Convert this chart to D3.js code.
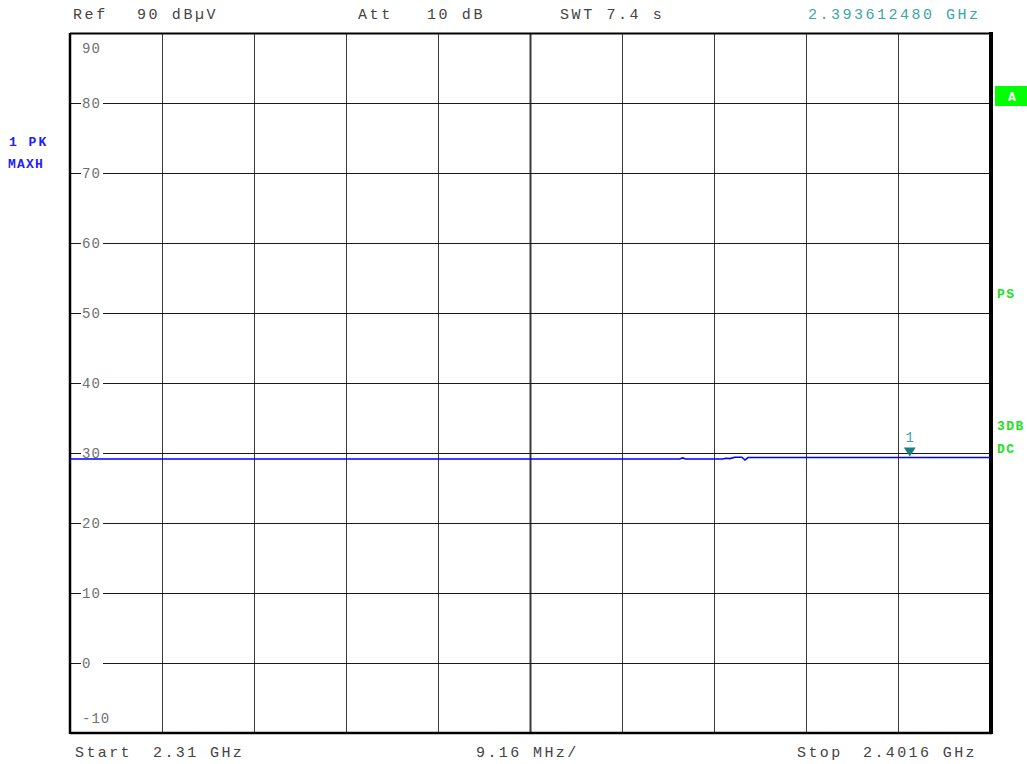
<!DOCTYPE html>
<html>
<head>
<meta charset="utf-8">
<script src="https://cdn.jsdelivr.net/npm/d3@7/dist/d3.min.js"></script>
<style>
  body { margin: 0; background: #fff; }
  svg text { font-family: "Liberation Mono", "DejaVu Sans Mono", monospace; white-space: pre; }
</style>
</head>
<body>
<div id="chart"></div>
<script>
// dane widma (GHz, dBuV)
var traceFreq = [2.31, 2.3707, 2.3710, 2.3713, 2.3750, 2.3753, 2.3757, 2.3762, 2.3769, 2.3772, 2.3775, 2.4016];
var traceLevel = [29.15, 29.15, 29.3, 29.15, 29.15, 29.25, 29.2, 29.4, 29.4, 29.0, 29.35, 29.35];
var yTicks = [90, 80, 70, 60, 50, 40, 30, 20, 10, 0, -10];
var startFreq = 2.31, stopFreq = 2.4016, spanDiv = 0.00916;
var markerFreq = 2.39361248, markerLevel = 29.35;
var headerTexts = [["Ref", 73], ["90 dBµV", 137], ["Att", 358], ["10 dB", 427], ["SWT 7.4 s", 560]];
var footerTexts = [["Start", 75], ["2.31 GHz", 153], ["9.16 MHz/", 476], ["Stop", 797], ["2.4016 GHz", 863]];
var rightTexts = [["PS", 298], ["3DB", 430], ["DC", 453]];

var width = 1027, height = 764;
var pLeft = 70, pRight = 990, pTop = 33, pBottom = 733;

var svg = d3.select("#chart").append("svg")
  .attr("width", width).attr("height", height);

var x = d3.scaleLinear().domain([startFreq, stopFreq]).range([pLeft, pRight]);
var y = d3.scaleLinear().domain([-10, 90]).range([pBottom, pTop]);

// siatka pionowa
var xGrid = d3.range(1, 10).map(function (i) { return startFreq + i * spanDiv; });
svg.selectAll(".vgrid").data(xGrid).enter().append("line")
  .attr("x1", function (d) { return Math.round(x(d)) + 0.5; })
  .attr("x2", function (d) { return Math.round(x(d)) + 0.5; })
  .attr("y1", pTop).attr("y2", pBottom)
  .style("stroke", "#3a3a3a")
  .style("stroke-width", function (d, i) { return i == 4 ? 2 : 1; });

// siatka pozioma
svg.selectAll(".hgrid").data(yTicks.slice(1, -1)).enter().append("line")
  .attr("x1", pLeft).attr("x2", pRight)
  .attr("y1", function (d) { return Math.round(y(d)) + 0.5; })
  .attr("y2", function (d) { return Math.round(y(d)) + 0.5; })
  .style("stroke", "#1a1a1a").style("stroke-width", 1);

// etykiety osi Y
var lab = svg.selectAll(".ylab").data(yTicks).enter().append("g")
  .attr("transform", function (d) {
    var yy = y(d);
    if (d == 90) yy += 15;
    if (d == -10) yy -= 15;
    return "translate(82," + yy + ")";
  });
lab.append("rect")
  .attr("x", -1).attr("y", -8).attr("width", function (d) { return d < 0 ? 32 : 22; }).attr("height", 16)
  .style("fill", "#fff");
lab.append("text")
  .attr("dy", "0.36em")
  .style("font-size", "14px").style("letter-spacing", "1px")
  .style("fill", "#707070")
  .text(function (d) { return d; });

// ramka
svg.append("line").attr("x1", pLeft).attr("x2", pRight + 2).attr("y1", pTop + 0.5).attr("y2", pTop + 0.5)
  .style("stroke", "#000").style("stroke-width", 2);
svg.append("line").attr("x1", pLeft).attr("x2", pRight + 2).attr("y1", pBottom).attr("y2", pBottom)
  .style("stroke", "#000").style("stroke-width", 2.5);
svg.append("line").attr("x1", pLeft).attr("x2", pLeft).attr("y1", pTop).attr("y2", pBottom + 1)
  .style("stroke", "#000").style("stroke-width", 2.5);
svg.append("line").attr("x1", pRight + 1).attr("x2", pRight + 1).attr("y1", pTop - 1).attr("y2", pBottom + 1)
  .style("stroke", "#000").style("stroke-width", 4);

// przebieg
var trace = traceFreq.map(function (f, i) { return [f, traceLevel[i]]; });
var line = d3.line()
  .x(function (d) { return x(d[0]); })
  .y(function (d) { return y(d[1]); });
svg.append("path").datum(trace)
  .attr("d", line)
  .style("fill", "none").style("stroke", "#0000ff").style("stroke-width", 1.6);

// marker 1
var mx = x(markerFreq), my = y(markerLevel);
svg.append("path")
  .attr("d", "M" + (mx - 6) + "," + (my - 10) + "L" + (mx + 6) + "," + (my - 10) + "L" + mx + "," + (my - 1) + "Z")
  .style("fill", "#177f7f");
svg.append("text").attr("x", mx).attr("y", my - 16)
  .attr("text-anchor", "middle")
  .style("font-size", "14px").style("fill", "#3aa6a6")
  .text("1");

// naglowek i stopka
svg.selectAll(".head").data(headerTexts).enter().append("text")
  .attr("x", function (d) { return d[1]; }).attr("y", 19)
  .style("font-size", "15px").style("letter-spacing", "2.6px").style("fill", "#444")
  .text(function (d) { return d[0]; });
svg.append("text").attr("x", 808).attr("y", 19)
  .style("font-size", "15px").style("letter-spacing", "2.5px").style("fill", "#3aa6a6")
  .text("2.393612480 GHz");
svg.selectAll(".foot").data(footerTexts).enter().append("text")
  .attr("x", function (d) { return d[1]; }).attr("y", 757)
  .style("font-size", "15px").style("letter-spacing", "2.4px").style("fill", "#444")
  .text(function (d) { return d[0]; });

// opisy z lewej
svg.append("text").attr("x", 9).attr("y", 146)
  .style("font-size", "13px").style("font-weight", "bold").style("letter-spacing", "2px").style("fill", "#2020ff")
  .text("1 PK");
svg.append("text").attr("x", 8).attr("y", 168)
  .style("font-size", "13px").style("font-weight", "bold").style("letter-spacing", "1.2px").style("fill", "#2020ff")
  .text("MAXH");

// opisy z prawej
svg.append("rect").attr("x", 995).attr("y", 86).attr("width", 32).attr("height", 20)
  .style("fill", "#00ff00");
svg.append("text").attr("x", 1012).attr("y", 101).attr("text-anchor", "middle")
  .style("font-size", "13px").style("font-weight", "bold").style("fill", "#fff")
  .text("A");
svg.selectAll(".rlab").data(rightTexts).enter().append("text")
  .attr("x", 997).attr("y", function (d) { return d[1]; })
  .style("font-size", "13px").style("font-weight", "bold").style("letter-spacing", "1.5px").style("fill", "#22e022")
  .text(function (d) { return d[0]; });
</script>
</body>
</html>
